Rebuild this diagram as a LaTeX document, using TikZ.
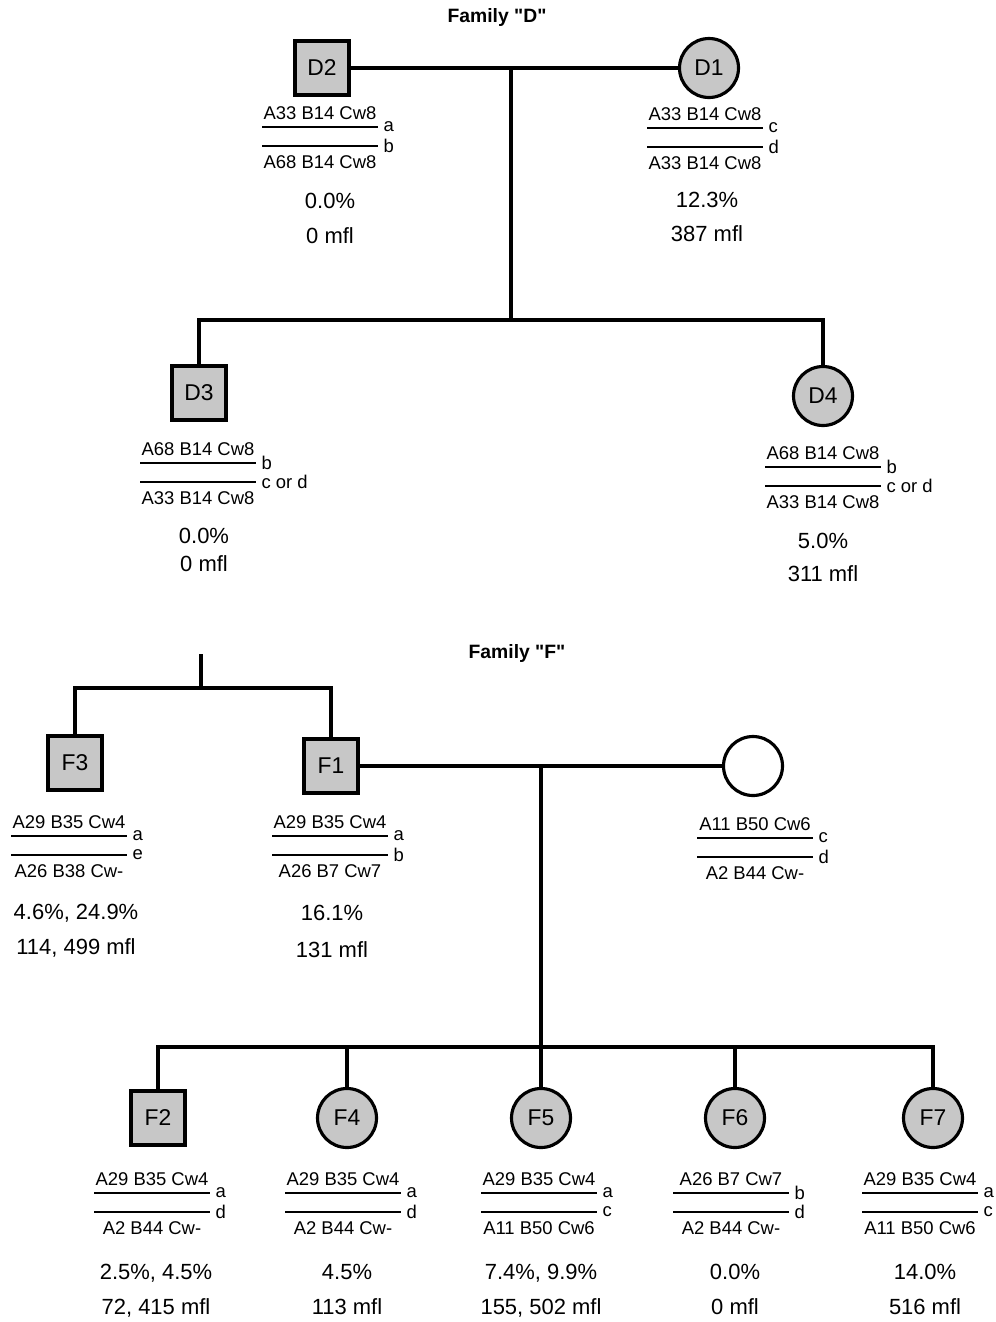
\documentclass[tikz,border=0pt]{standalone}
\usepackage{fontspec}
\setmainfont{Liberation Sans}
\usetikzlibrary{positioning}

% two haplotypes, name / x / y of upper line / upper / letter / lower / letter
\newcommand{\haplo}[7]{%
	\coordinate (#1-ua) at (#2-58,#3);
	\coordinate (#1-ub) at (#2+58,#3);
	\coordinate (#1-la) at (#2-58,#3+19);
	\coordinate (#1-lb) at (#2+58,#3+19);
	\draw[hapline] (#1-ua) -- (#1-ub);
	\draw[hapline] (#1-la) -- (#1-lb);
	\node[hap, anchor=base] (#1-up) at (#2,#3-8) {#4};
	\node[hap, anchor=base] (#1-lo) at (#2,#3+41) {#6};
	\node[hap, inner sep=0pt, right=3pt of #1-ub] (#1-ul) {#5};
	\node[hap, inner sep=0pt, right=3pt of #1-lb] (#1-ll) {#7};
}
% percentage and mfl below the haplotypes
\newcommand{\assay}[6]{%
	\node[res, anchor=base] (#1-pct) at (#2,#3+7) {#5};
	\node[res, anchor=base] (#1-mfl) at (#2,#4+7) {#6};
}

\begin{document}
\begin{tikzpicture}[x=0.02cm, y=-0.02cm,
	ped/.style={line width=2pt},
	hapline/.style={line width=1.3pt},
	male/.style={draw, line width=1.8pt, fill=black!22, minimum size=1.08cm, inner sep=0pt, font=\fontsize{13}{13}\selectfont},
	female/.style={male, circle, minimum size=1.18cm},
	hap/.style={inner sep=1pt, font=\fontsize{10.5}{11}\selectfont},
	res/.style={inner sep=1pt, font=\fontsize{12.5}{13}\selectfont},
	title/.style={font=\bfseries\fontsize{11}{12}\selectfont}]
	\useasboundingbox (0,0) rectangle (995,1322);
	
	% Family D
	\node[title] (famD) at (497,18) {Family \textquotedbl D\textquotedbl};
	\node[male] (D2) at (322,68) {D2};
	\node[female] (D1) at (709,68) {D1};
	\node[male] (D3) at (199,393) {D3};
	\node[female] (D4) at (823,396) {D4};
	
	\coordinate (Dm) at (511,68);
	\coordinate (Ds) at (511,320);
	\draw[ped] (D2.east) -- (D1.west);
	\draw[ped] (Dm) -- (Ds);
	\draw[ped] (D3.north) |- (Ds) -| (D4.north);
	
	\haplo{D2}{320}{127}{A33 B14 Cw8}{a}{A68 B14 Cw8}{b}
	\assay{D2}{330}{201}{236}{0.0\%}{0 mfl}
	\haplo{D1}{705}{128}{A33 B14 Cw8}{c}{A33 B14 Cw8}{d}
	\assay{D1}{707}{200}{234}{12.3\%}{387 mfl}
	\haplo{D3}{198}{463}{A68 B14 Cw8}{b}{A33 B14 Cw8}{c or d}
	\assay{D3}{204}{536}{564}{0.0\%}{0 mfl}
	\haplo{D4}{823}{467}{A68 B14 Cw8}{b}{A33 B14 Cw8}{c or d}
	\assay{D4}{823}{541}{574}{5.0\%}{311 mfl}
	
	% Family F
	\node[title] (famF) at (517,653) {Family \textquotedbl F\textquotedbl};
	\node[male] (F3) at (75,763) {F3};
	\node[male] (F1) at (331,766) {F1};
	\node[female, fill=white] (Fw) at (753,766) {};
	\node[male] (F2) at (158,1118) {F2};
	\node[female] (F4) at (347,1118) {F4};
	\node[female] (F5) at (541,1118) {F5};
	\node[female] (F6) at (735,1118) {F6};
	\node[female] (F7) at (933,1118) {F7};
	
	\coordinate (Fp) at (201,654);
	\coordinate (Fps) at (201,688);
	\coordinate (Fm) at (541,766);
	\coordinate (Fs) at (541,1047);
	\draw[ped] (Fp) -- (Fps);
	\draw[ped] (F3.north) |- (Fps) -| (F1.north);
	\draw[ped] (F1.east) -- (Fw.west);
	\draw[ped] (Fm) -- (Fs);
	\draw[ped] (F2.north) |- (Fs) -| (F7.north);
	\draw[ped] (F4.north) -- (F4.north |- Fs);
	\draw[ped] (F5.north) -- (Fs);
	\draw[ped] (F6.north) -- (F6.north |- Fs);
	
	\haplo{F3}{69}{836}{A29 B35 Cw4}{a}{A26 B38 Cw-}{e}
	\assay{F3}{76}{912}{947}{4.6\%, 24.9\%}{114, 499 mfl}
	\haplo{F1}{330}{836}{A29 B35 Cw4}{a}{A26 B7 Cw7}{b}
	\assay{F1}{332}{913}{950}{16.1\%}{131 mfl}
	\haplo{Fw}{755}{838}{A11 B50 Cw6}{c}{A2 B44 Cw-}{d}
	
	\haplo{F2}{152}{1193}{A29 B35 Cw4}{a}{A2 B44 Cw-}{d}
	\assay{F2}{156}{1272}{1307}{2.5\%, 4.5\%}{72, 415 mfl}
	\haplo{F4}{343}{1193}{A29 B35 Cw4}{a}{A2 B44 Cw-}{d}
	\assay{F4}{347}{1272}{1307}{4.5\%}{113 mfl}
	\haplo{F5}{539}{1193}{A29 B35 Cw4}{a}{A11 B50 Cw6}{c}
	\assay{F5}{541}{1272}{1307}{7.4\%, 9.9\%}{155, 502 mfl}
	\haplo{F6}{731}{1193}{A26 B7 Cw7}{b}{A2 B44 Cw-}{d}
	\assay{F6}{735}{1272}{1307}{0.0\%}{0 mfl}
	\haplo{F7}{920}{1193}{A29 B35 Cw4}{a}{A11 B50 Cw6}{c}
	\assay{F7}{925}{1272}{1307}{14.0\%}{516 mfl}
\end{tikzpicture}
\end{document}
